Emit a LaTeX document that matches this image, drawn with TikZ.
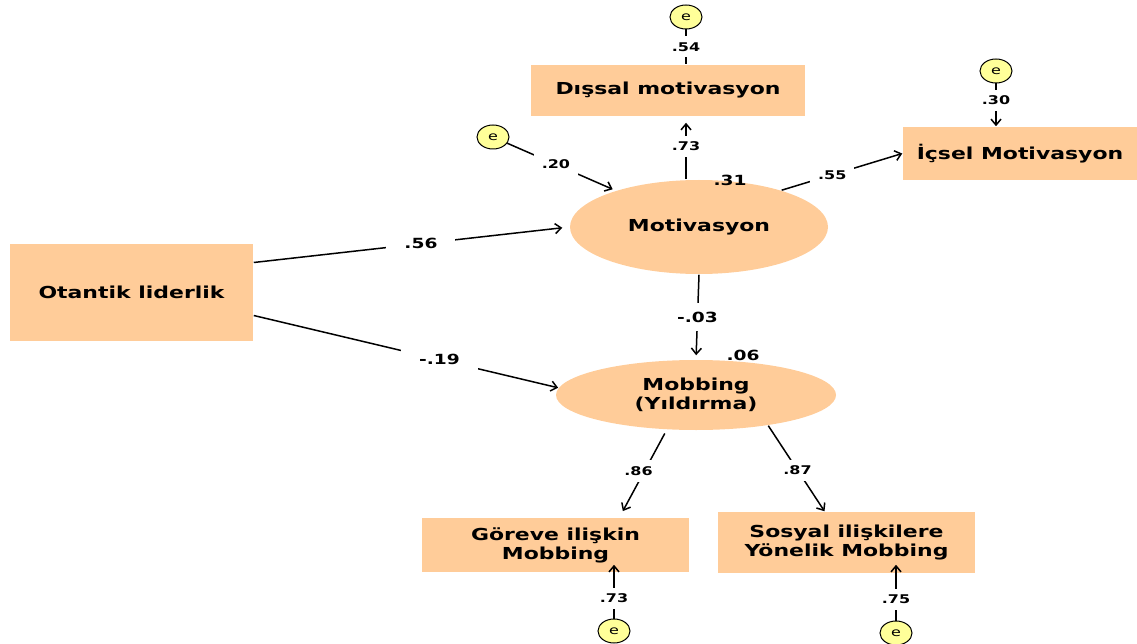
\documentclass[tikz,border=0pt]{standalone}
\usepackage{fontspec}
\setmainfont{DejaVu Sans}[FakeStretch=1.33]
\usetikzlibrary{arrows.meta,shapes.geometric,calc}
\definecolor{peach}{HTML}{FFCC99}
\definecolor{errfill}{HTML}{FFFF99}

\begin{document}
\begin{tikzpicture}[x=1pt,y=-1pt,>={Straight Barb[length=6pt,width=10pt]},line width=1.5pt,
  obsbox/.style={rectangle,fill=peach,inner sep=0pt,align=center,font=\bfseries\fontsize{16.5}{19}\selectfont},
  latentvar/.style={ellipse,fill=peach,inner sep=0pt,align=center,font=\bfseries\fontsize{16.5}{19}\selectfont},
  errvar/.style={ellipse,draw,line width=1pt,fill=errfill,minimum width=32pt,minimum height=24pt,inner sep=0pt,font=\fontsize{12}{12}\selectfont},
  coef/.style={fill=white,inner xsep=8pt,inner ysep=6pt,font=\bfseries\fontsize{12}{12}\selectfont},
  bigcoef/.style={coef,inner xsep=18pt,font=\bfseries\fontsize{14}{14}\selectfont},
  rsq/.style={inner sep=0pt,font=\bfseries\fontsize{14}{14}\selectfont}]
\useasboundingbox (0,0) rectangle (1137,644);
\clip (0,0) rectangle (1137,644);
% observed variables
\node[obsbox,minimum width=243pt,minimum height=97pt] (otantik) at (131.5,292.5) {Otantik liderlik};
\node[obsbox,minimum width=274pt,minimum height=51pt] (dissal) at (668,90.5) {Dışsal motivasyon};
\node[obsbox,minimum width=234pt,minimum height=53pt] (icsel) at (1020,153.5) {İçsel Motivasyon};
\node[obsbox,minimum width=267pt,minimum height=54pt] (goreve) at (555.5,545) {Göreve ilişkin\\Mobbing};
\node[obsbox,minimum width=257pt,minimum height=61pt] (sosyal) at (846.5,542.5) {Sosyal ilişkilere\\Yönelik Mobbing};
% latent variables
\node[latentvar,minimum width=258pt,minimum height=94pt] (motiv) at (699,227) {Motivasyon};
\node[latentvar,minimum width=280pt,minimum height=70pt] (mobbing) at (696,395) {Mobbing\\(Yıldırma)};
\path (730,180) node[rsq]{.31};
\path (743,355) node[rsq]{.06};
% error terms
\node[errvar] (edis) at (686,17) {e};
\node[errvar] (emot) at (493,137) {e};
\node[errvar] (eics) at (996,71) {e};
\node[errvar] (egor) at (614,631) {e};
\node[errvar] (esos) at (896,633) {e};
% structural paths
\draw[->,shorten >=7pt] ($(otantik.east)+(0,-30)$) -- (motiv.west) node[bigcoef,pos=0.53]{.56};
\draw[->] ($(otantik.east)+(0,23)$) -- (mobbing.177) node[bigcoef,pos=0.61]{-.19};
\draw[->,shorten >=4pt] (motiv.south) -- (mobbing.north) node[bigcoef,inner ysep=9pt,midway]{-.03};
% measurement paths
\draw[->,shorten >=6pt] (motiv.north -| edis) -- (dissal.south -| edis) node[coef,pos=0.53]{.73};
\draw[->] (motiv.24) -- (icsel.west) node[coef,pos=0.42]{.55};
\draw[->,shorten <=4pt,shorten >=7pt] (mobbing.230) -- ($(goreve.north)+(64,0)$) node[coef,pos=0.47,xshift=-6pt]{.86};
\draw[->] (mobbing.337) -- ($(sosyal.north)+(-22,0)$) node[coef,pos=0.52]{.87};
% error paths
\draw (edis) -- (edis |- dissal.north) node[coef,midway]{.54};
\draw[->,shorten >=3pt] (emot) -- (motiv) node[coef,pos=0.45]{.20};
\draw[->] (eics) -- (eics |- icsel.north) node[coef,pos=0.4]{.30};
\draw[->] (egor) -- ($(egor |- goreve.south)+(0,-8)$) node[coef,pos=0.38]{.73};
\draw[->] (esos) -- ($(esos |- sosyal.south)+(0,-9)$) node[coef,pos=0.38]{.75};
\end{tikzpicture}
\end{document}
